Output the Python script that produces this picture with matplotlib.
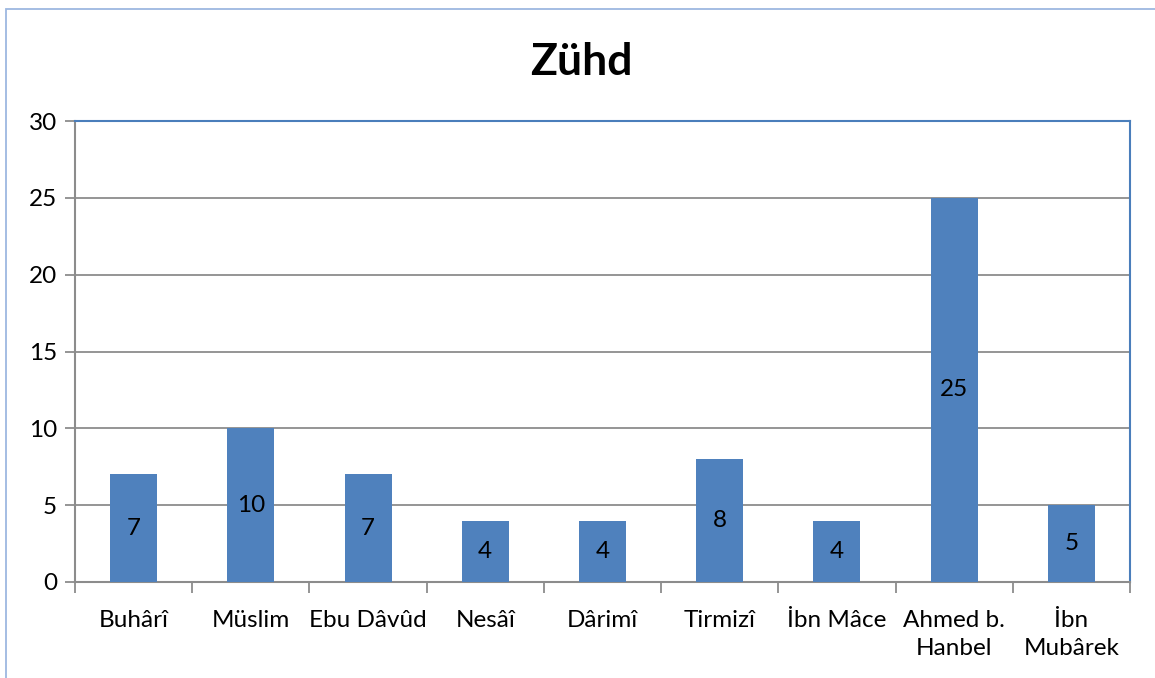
import numpy as np
import matplotlib.pyplot as plt
from matplotlib.patches import Rectangle

plt.rcParams['font.family'] = ['Lato', 'DejaVu Sans']

categories = ['Buhârî', 'Müslim', 'Ebu Dâvûd', 'Nesâî', 'Dârimî', 'Tirmizî',
              'İbn Mâce', 'Ahmed b.\nHanbel', 'İbn\nMubârek']
values = [7, 10, 7, 4, 4, 8, 4, 25, 5]
yticks = [0, 5, 10, 15, 20, 25, 30]

bar_color = '#4F81BD'
grid_color = '#8C8C8C'
fs = 17.5

fig = plt.figure(figsize=(11.55, 6.78), dpi=100)
ax = fig.add_axes([75 / 1155, 1 - 582 / 678, (1130 - 75) / 1155, (582 - 121) / 678])

x = np.arange(len(categories))
ax.bar(x, values, width=0.4, color=bar_color, zorder=3)
for xi, v in zip(x, values):
    ax.text(xi, v / 2, str(v), ha='center', va='center', fontsize=fs, zorder=4)

ax.set_xlim(-0.5, len(categories) - 0.5)
ax.set_ylim(0, 30)
ax.set_yticks(yticks)
ax.set_yticklabels([str(t) for t in yticks], fontsize=fs)
ax.yaxis.grid(True, color=grid_color, linewidth=1.3, zorder=0)
ax.tick_params(axis='y', length=7, width=1.3, color=grid_color, pad=6, direction='out')

# category boundaries for x ticks
ax.set_xticks(np.arange(len(categories) + 1) - 0.5, minor=False)
ax.set_xticklabels([])
ax.tick_params(axis='x', which='major', length=8, width=1.3, color=grid_color)
ax.set_xticks(x, minor=True)
ax.set_xticklabels(categories, minor=True, fontsize=fs, linespacing=1.4, va='top')
ax.tick_params(axis='x', which='minor', length=0, pad=20)

ax.spines['left'].set_color(grid_color)
ax.spines['bottom'].set_color(grid_color)
ax.spines['left'].set_linewidth(1.5)
ax.spines['bottom'].set_linewidth(1.5)
ax.spines['top'].set_color('#4A7EBB')
ax.spines['right'].set_color('#4A7EBB')
ax.spines['top'].set_linewidth(1.5)
ax.spines['right'].set_linewidth(1.5)

fig.text(581 / 1155, 1 - 62 / 678, 'Zühd', ha='center', va='center',
         fontsize=32, fontweight='bold')

# outer chart border
fig.patches.append(Rectangle((6 / 1155, -0.1), 1.2, 1 - 9 / 678 + 0.1, transform=fig.transFigure,
                             fill=False, edgecolor='#9DB7E0', linewidth=1.3))

fig.savefig('out.png', dpi=100)
